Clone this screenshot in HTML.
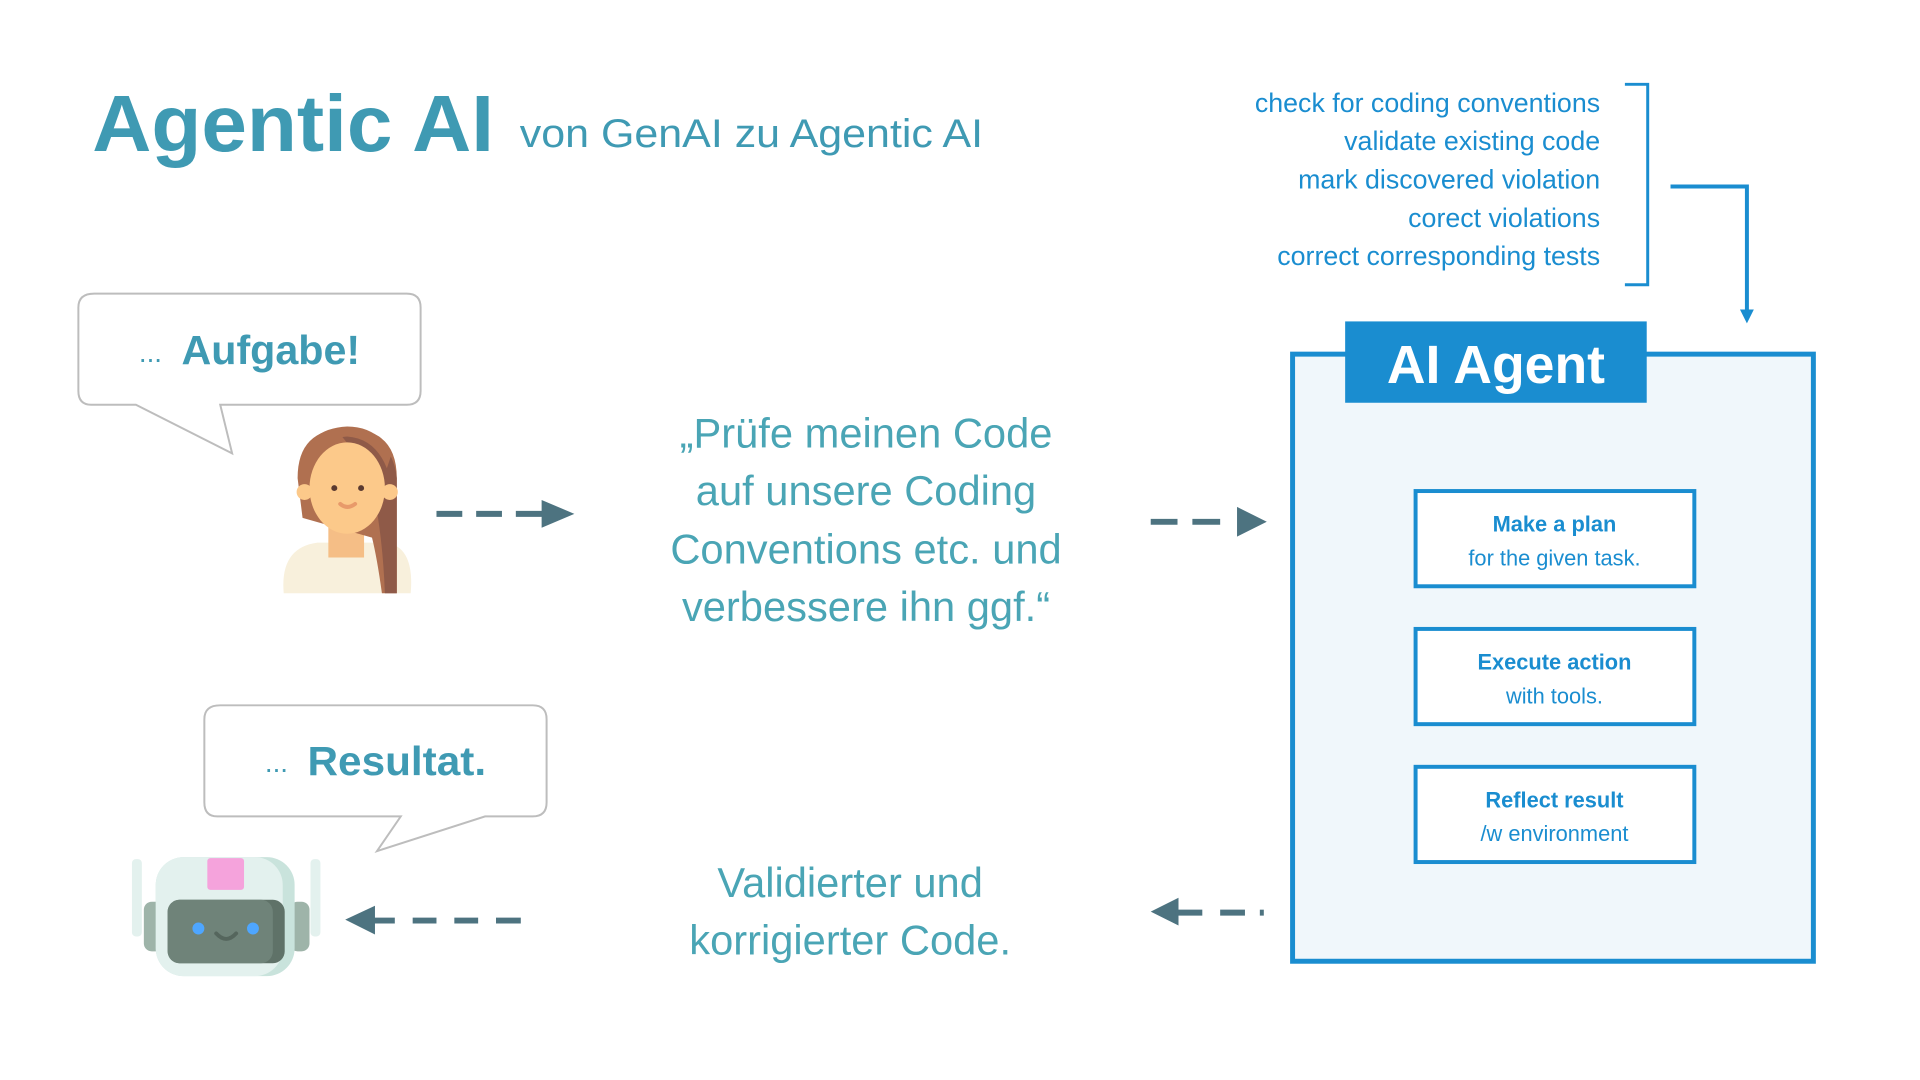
<!DOCTYPE html>
<html><head><meta charset="utf-8"><style>
html,body{margin:0;padding:0;background:#fff;}
svg{display:block;}
</style></head><body>
<svg width="1920" height="1080" viewBox="0 0 1920 1080" xmlns="http://www.w3.org/2000/svg" font-family="Liberation Sans, sans-serif">
<g transform="scale(0.992)">
<!-- Title -->
<text x="93" y="152" font-size="80" font-weight="bold" fill="#3f9ab3" textLength="405" lengthAdjust="spacingAndGlyphs">Agentic AI</text>
<text x="524" y="148" font-size="40" fill="#3f9ab3" textLength="467" lengthAdjust="spacingAndGlyphs">von GenAI zu Agentic AI</text>

<!-- Right task list -->
<g font-size="27" fill="#1a8dd0" text-anchor="end">
<text x="1613" y="113">check for  coding conventions</text>
<text x="1613" y="151">validate existing code</text>
<text x="1613" y="190">mark discovered violation</text>
<text x="1613" y="229">corect violations</text>
<text x="1613" y="267">correct corresponding tests</text>
</g>
<polyline points="1638,85 1661,85 1661,287 1638,287" fill="none" stroke="#1a8dd0" stroke-width="3"/>
<polyline points="1684,188 1761,188 1761,315" fill="none" stroke="#1a8dd0" stroke-width="4"/>
<polygon points="1754,312 1768,312 1761,326" fill="#1a8dd0"/>

<!-- AI Agent box -->
<rect x="1303" y="357" width="525" height="612" fill="#f0f7fb" stroke="#1a8dd0" stroke-width="5"/>
<rect x="1356" y="324" width="304" height="82" fill="#1a8dd0"/>
<text x="1508" y="386" font-size="54" font-weight="bold" fill="#fff" text-anchor="middle">AI Agent</text>

<g fill="#fff" stroke="#1a8dd0" stroke-width="4">
<rect x="1427" y="495" width="281" height="96"/>
<rect x="1427" y="634" width="281" height="96"/>
<rect x="1427" y="773" width="281" height="96"/>
</g>
<g font-size="22" fill="#1a8dd0" text-anchor="middle">
<text x="1567" y="536" font-weight="bold">Make a plan</text>
<text x="1567" y="570">for the given task.</text>
<text x="1567" y="675" font-weight="bold">Execute action</text>
<text x="1567" y="709">with tools.</text>
<text x="1567" y="814" font-weight="bold">Reflect result</text>
<text x="1567" y="848">/w environment</text>
</g>

<!-- Bubble 1 -->
<path d="M95,296 H410 Q424,296 424,310 V394 Q424,408 410,408 H222 L234,457 L137,408 H92 Q79,408 79,394 V310 Q79,296 95,296 Z" fill="#fff" stroke="#bdbdbd" stroke-width="2"/>
<text x="140" y="365" font-size="28" fill="#3f9ab3">...</text>
<text x="183" y="367" font-size="41" font-weight="bold" fill="#3f9ab3" textLength="180" lengthAdjust="spacingAndGlyphs">Aufgabe!</text>

<!-- Woman -->
<g>
<path d="M286,598 Q282,552 320,547 L390,547 Q418,552 414,598 Z" fill="#f8f0dc"/>
<rect x="331" y="522" width="36" height="40" fill="#f5be86"/>
<path d="M300,482 Q300,432 350,432 Q400,432 400,482 L400,598 L385,598 Q380,562 375,542 L305,522 Z" fill="#b07050"/>
<path d="M340,434 Q395,434 400,482 L400,598 L388,598 Q385,522 370,472 Z" fill="#8f5a48"/>
<ellipse cx="350" cy="492" rx="38" ry="46" fill="#fcc98a"/>
<circle cx="307" cy="496" r="8" fill="#fcc98a"/><circle cx="393" cy="496" r="8" fill="#fcc98a"/>
<path d="M310,472 Q320,442 350,440 Q378,442 390,472 L395,457 Q380,430 350,430 Q308,432 302,472 Z" fill="#b07050"/>
<circle cx="337" cy="492" r="3" fill="#5a3a30"/><circle cx="364" cy="492" r="3" fill="#5a3a30"/>
<path d="M343,508 Q350,514 358,508" fill="none" stroke="#e89a6a" stroke-width="4" stroke-linecap="round"/>
</g>

<!-- Arrow 1 -->
<g stroke="#4d7380" stroke-width="6">
<line x1="440" y1="518" x2="466" y2="518"/><line x1="480" y1="518" x2="506" y2="518"/><line x1="520" y1="518" x2="548" y2="518"/>
</g>
<polygon points="546,504 579,518 546,532" fill="#4d7380"/>

<!-- Quote -->
<g font-size="42" fill="#4aa5b5" text-anchor="middle">
<text x="873" y="451">„Prüfe meinen Code</text>
<text x="873" y="509">auf unsere Coding</text>
<text x="873" y="568">Conventions etc. und</text>
<text x="873" y="626">verbessere ihn ggf.“</text>
</g>

<!-- Arrow 2 -->
<g stroke="#4d7380" stroke-width="6">
<line x1="1160" y1="526" x2="1187" y2="526"/><line x1="1202" y1="526" x2="1230" y2="526"/>
</g>
<polygon points="1247,511 1277,526 1247,541" fill="#4d7380"/>

<!-- Bubble 2 -->
<path d="M222,711 H537 Q551,711 551,725 V809 Q551,823 537,823 H489 L380,858 L404,823 H219 Q206,823 206,809 V725 Q206,711 222,711 Z" fill="#fff" stroke="#bdbdbd" stroke-width="2"/>
<text x="267" y="778" font-size="28" fill="#3f9ab3">...</text>
<text x="310" y="781" font-size="41" font-weight="bold" fill="#3f9ab3" textLength="180" lengthAdjust="spacingAndGlyphs">Resultat.</text>

<!-- Robot -->
<g transform="translate(0,4)">
<rect x="133" y="862" width="10" height="78" rx="4" fill="#e3f1ee"/>
<rect x="313" y="862" width="10" height="78" rx="4" fill="#e3f1ee"/>
<rect x="145" y="905" width="20" height="50" rx="8" fill="#9eb4a9"/>
<rect x="292" y="905" width="20" height="50" rx="8" fill="#9eb4a9"/>
<rect x="157" y="860" width="140" height="120" rx="28" fill="#c9e3dc"/>
<rect x="157" y="860" width="128" height="120" rx="28" fill="#e3f1ee"/>
<rect x="209" y="861" width="37" height="32" rx="3" fill="#f5a3dc"/>
<rect x="169" y="903" width="118" height="64" rx="12" fill="#5f7268"/>
<rect x="169" y="903" width="106" height="64" rx="12" fill="#6f8379"/>
<circle cx="200" cy="932" r="6" fill="#4ea6ff"/><circle cx="255" cy="932" r="6" fill="#4ea6ff"/>
<path d="M218,937 Q228,948 238,937" fill="none" stroke="#55665d" stroke-width="4" stroke-linecap="round"/>
</g>

<!-- Arrow 4 (to robot) -->
<polygon points="348,927 378,913 378,942" fill="#4d7380"/>
<g stroke="#4d7380" stroke-width="6">
<line x1="375" y1="928" x2="398" y2="928"/><line x1="416" y1="928" x2="440" y2="928"/><line x1="458" y1="928" x2="482" y2="928"/><line x1="500" y1="928" x2="525" y2="928"/>
</g>

<!-- Arrow 3 -->
<polygon points="1160,919 1188,905 1188,933" fill="#4d7380"/>
<g stroke="#4d7380" stroke-width="6">
<line x1="1185" y1="920" x2="1212" y2="920"/><line x1="1230" y1="920" x2="1255" y2="920"/><line x1="1270" y1="920" x2="1274" y2="920"/>
</g>

<!-- Bottom text -->
<g font-size="42" fill="#4aa5b5" text-anchor="middle">
<text x="857" y="904">Validierter und</text>
<text x="857" y="962">korrigierter Code.</text>
</g>
</g>
</svg>
</body></html>
